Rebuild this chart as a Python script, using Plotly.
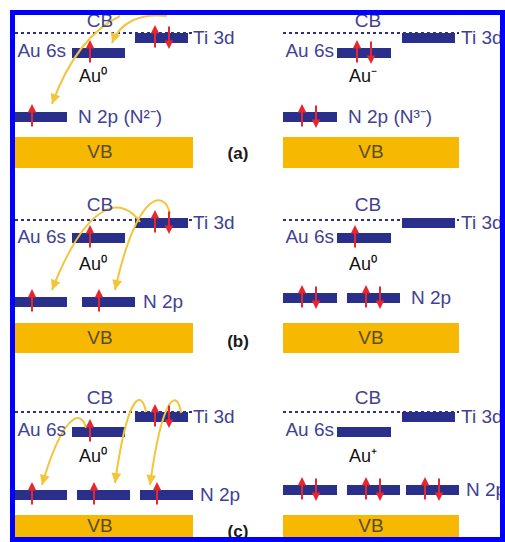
import plotly.graph_objects as go
import math

W, H = 505, 542

# ---------------- diagram content ----------------
row_labels = ["(a)", "(b)", "(c)"]
au_labels_left = ["Au⁰", "Au⁰", "Au⁰"]
au_labels_right = ["Au⁻", "Au⁰", "Au⁺"]
n2p_labels_left = ["N 2p (N²⁻)", "N 2p", "N 2p"]
n2p_labels_right = ["N 2p (N³⁻)", "N 2p", "N 2p"]
au_spin_left = ["up", "up", "up"]
au_spin_right = ["updown", "up", ""]
ti_spin_left = ["updown", "updown", "updown"]
ti_spin_right = ["", "", ""]
n2p_spin_left = ["up", "up", "up"]
n2p_spin_right = ["updown", "updown", "updown"]

# level heights per row (pixel layout of the picture)
cb_y = [33, 220, 412]
ti_y = [33, 218, 412]
au_y = [48, 233, 427]
n2p_y_left = [112, 297, 490]
n2p_y_right = [112, 293, 485]
vb_top = [137, 323, 515]
vb_bot = [168, 353, 540]
cb_text_y = [22, 206, 399]
au_text_y = [52, 238, 431]
au_ion_y = [77, 265, 457]
row_label_y = [155, 343, 533]

# horizontal layout of the two columns
left_x = dict(line0=15, line1=192, ti0=135, ti1=188, ti_text=195, au0=72, au1=125, au_text=64,
              au_ion=93, cb=100, vb0=15, vb1=193, vbt=100)
right_x = dict(line0=283, line1=459, ti0=402, ti1=455, ti_text=463, au0=337, au1=391, au_text=332,
               au_ion=363, cb=368, vb0=283, vb1=459, vbt=371)
n2p_bars_left = [[(15, 67)], [(15, 67), (82, 135)], [(15, 67), (77, 130), (140, 193)]]
n2p_bars_right = [[(283, 337)], [(283, 337), (347, 400)], [(283, 337), (347, 400), (406, 459)]]
n2p_text_left = [80, 145, 202]
n2p_text_right = [350, 413, 468]

# yellow electron-transfer curves (cubic paths: start, c1, c2, end)
transfer_curves = [
    [(120, 16), (95, 28), (70, 55), (52, 104)],
    [(167, 16), (140, 13), (120, 22), (112, 43)],
    [(140, 222), (122, 196), (88, 198), (52, 290)],
    [(170, 214), (165, 190), (138, 188), (115, 290)],
    [(86, 428), (82, 410), (64, 410), (42, 485)],
    [(146, 412), (142, 390), (128, 390), (115, 483)],
    [(181, 413), (178, 390), (163, 390), (150, 485)],
]

# ---------------- styles ----------------
NAVY = "#2b2f8c"
LABEL = "#3f4192"
RED = "#e8262c"
GOLD = "#f6b800"
YEL = "#f2c53a"
BORDER = "#0000ff"
FONT = "Liberation Sans, Arial, sans-serif"
FS = 19

fig = go.Figure()
shapes = []
annotations = []


def rect(x0, x1, y0, y1, color):
    shapes.append(dict(type="rect", x0=x0, x1=x1, y0=y0, y1=y1, xref="x", yref="y",
                       fillcolor=color, line=dict(width=0), layer="below"))


def spin_arrow(x, top, bottom, up=True):
    head, tail = (top, bottom) if up else (bottom, top)
    annotations.append(dict(x=x, y=head, ax=x, ay=tail, xref="x", yref="y", axref="x", ayref="y",
                            showarrow=True, arrowhead=2, arrowsize=0.85, arrowwidth=2,
                            arrowcolor=RED, text="", standoff=0))


def spins(kind, x0, bar_top, bar_bot):
    top, bot = bar_top - 8, bar_bot + 6
    if kind == "up":
        spin_arrow(x0 + 18, top, bot, True)
    elif kind == "updown":
        spin_arrow(x0 + 20, top, bot, True)
        spin_arrow(x0 + 34, top, bot, False)


texts = {"x": [], "y": [], "t": [], "pos": [], "color": [], "size": []}


def txt(x, y, t, pos="middle center", color=LABEL, size=FS):
    texts["x"].append(x); texts["y"].append(y); texts["t"].append(t)
    texts["pos"].append(pos); texts["color"].append(color); texts["size"].append(size)


for r in range(3):
    for side, X in (("L", left_x), ("R", right_x)):
        # CB dotted line
        shapes.append(dict(type="line", x0=X["line0"], x1=X["line1"], y0=cb_y[r], y1=cb_y[r],
                           xref="x", yref="y", line=dict(color=NAVY, width=2, dash="dot"), layer="below"))
        txt(X["cb"], cb_text_y[r], "CB")
        # Ti 3d
        rect(X["ti0"], X["ti1"], ti_y[r], ti_y[r] + 10, NAVY)
        txt(X["ti_text"] - 2, ti_y[r] + 6, "Ti 3d", "middle right")
        # Au 6s
        rect(X["au0"], X["au1"], au_y[r], au_y[r] + 10, NAVY)
        txt(X["au_text"] + 2, au_text_y[r], "Au 6s", "middle left")
        ion = au_labels_left[r] if side == "L" else au_labels_right[r]
        txt(X["au_ion"], au_ion_y[r], ion, color="#111111", size=18)
        # N 2p
        bars = n2p_bars_left[r] if side == "L" else n2p_bars_right[r]
        ny = n2p_y_left[r] if side == "L" else n2p_y_right[r]
        for (b0, b1) in bars:
            rect(b0, b1, ny, ny + 10, NAVY)
            spins(n2p_spin_left[r] if side == "L" else n2p_spin_right[r], b0 - 1, ny, ny + 10)
        nt = n2p_text_left[r] if side == "L" else n2p_text_right[r]
        txt(nt - 2, ny + 6, n2p_labels_left[r] if side == "L" else n2p_labels_right[r], "middle right")
        # VB
        rect(X["vb0"], X["vb1"], vb_top[r], vb_bot[r], GOLD)
        txt(X["vbt"], (vb_top[r] + min(vb_bot[r], 537)) / 2 + 1, "VB", color="#5b4c2c")
        # spins on Au and Ti levels
        spins(au_spin_left[r] if side == "L" else au_spin_right[r], X["au0"], au_y[r], au_y[r] + 10)
        spins(ti_spin_left[r] if side == "L" else ti_spin_right[r], X["ti0"], ti_y[r], ti_y[r] + 10)
    txt(238, row_label_y[r], "<b>" + row_labels[r] + "</b>", color="#1a1a1a", size=17)

# yellow curves with arrowheads
for (p0, c1, c2, p1) in transfer_curves:
    shapes.append(dict(type="path", xref="x", yref="y", layer="below",
                       path=f"M {p0[0]},{p0[1]} C {c1[0]},{c1[1]} {c2[0]},{c2[1]} {p1[0]},{p1[1]}",
                       line=dict(color=YEL, width=2)))
    dx, dy = p1[0] - c2[0], p1[1] - c2[1]
    n = math.hypot(dx, dy)
    tail = (p1[0] - 8 * dx / n, p1[1] - 8 * dy / n)
    annotations.append(dict(x=p1[0], y=p1[1], ax=tail[0], ay=tail[1], xref="x", yref="y",
                            axref="x", ayref="y", showarrow=True, arrowhead=2, arrowsize=1.0,
                            arrowwidth=2, arrowcolor=YEL, text="", standoff=0))

# blue frame (on top of shapes and traces)
shapes.append(dict(type="rect", x0=12.5, x1=502.5, y0=12.5, y1=539.5, xref="x", yref="y",
                   line=dict(color=BORDER, width=5), fillcolor="rgba(0,0,0,0)", layer="above"))

fig.add_trace(go.Scatter(x=texts["x"], y=texts["y"], text=texts["t"], mode="text",
                         textposition=texts["pos"],
                         textfont=dict(family=FONT, size=texts["size"], color=texts["color"]),
                         hoverinfo="skip", showlegend=False))

fig.update_layout(
    width=W, height=H, autosize=False,
    margin=dict(l=0, r=0, t=0, b=0, pad=0),
    paper_bgcolor="white", plot_bgcolor="white",
    xaxis=dict(range=[0, W], visible=False, fixedrange=True),
    yaxis=dict(range=[H, 0], visible=False, fixedrange=True),
    shapes=shapes, annotations=annotations, showlegend=False,
)

fig.write_html("out.html", config={"displayModeBar": False})
